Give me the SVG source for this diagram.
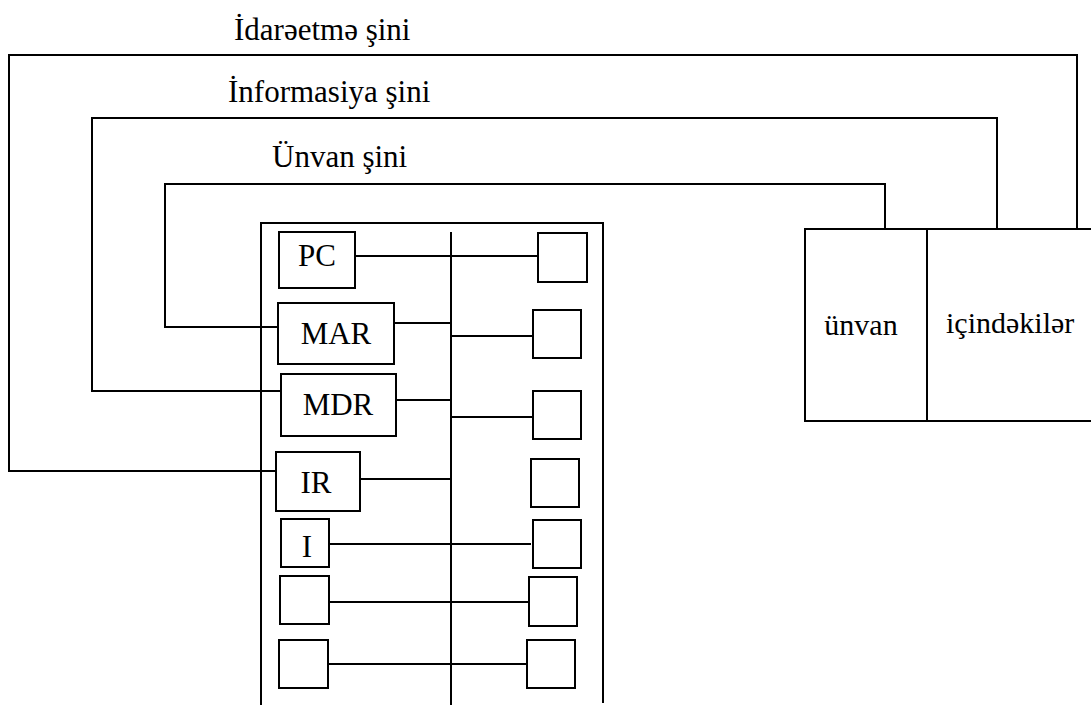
<svg xmlns="http://www.w3.org/2000/svg" width="1091" height="707" viewBox="0 0 1091 707">
<style>
.ln{fill:none;stroke:#000;stroke-width:2}
.bx{fill:#fff;stroke:#000;stroke-width:2}
.t{font-family:"Liberation Serif","Times New Roman",serif;font-size:31px;fill:#000}
.m{font-family:"Liberation Serif","Times New Roman",serif;font-size:30px;fill:#000}
</style>
<rect width="1091" height="707" fill="#fff"/>
<g id="labels">
<text class="t" x="234" y="40">İdarəetmə şini</text>
<text class="t" x="228" y="102">İnformasiya şini</text>
<text class="t" x="272" y="167">Ünvan şini</text>
</g>
<g id="connectors">
<path class="ln" d="M276,471 H9 V55 H1077 V229"/>
<path class="ln" d="M281,391 H92 V118 H997 V229"/>
<path class="ln" d="M278,327 H165 V184 H885 V229"/>
<path class="ln" d="M261,705 V223 H603 V703"/>
<path class="ln" d="M451,232 V705"/>
<path class="ln" d="M355,256 H538"/>
<path class="ln" d="M394,323 H451"/>
<path class="ln" d="M451,336 H533"/>
<path class="ln" d="M396,400 H451"/>
<path class="ln" d="M451,417 H533"/>
<path class="ln" d="M360,479 H451"/>
<path class="ln" d="M329,544 H531"/>
<path class="ln" d="M329,602 H529"/>
<path class="ln" d="M328,664 H527"/>
</g>
<g id="PC"><rect class="bx" x="279" y="232" width="76" height="56"/><text class="t" x="317" y="266" text-anchor="middle">PC</text></g>
<g id="MAR"><rect class="bx" x="278" y="303" width="116" height="61"/><text class="t" x="336" y="344" text-anchor="middle">MAR</text></g>
<g id="MDR"><rect class="bx" x="281" y="374" width="115" height="62"/><text class="t" x="338" y="415" text-anchor="middle">MDR</text></g>
<g id="IR"><rect class="bx" x="276" y="452" width="84" height="59"/><text class="t" x="316" y="493" text-anchor="middle">IR</text></g>
<g id="I"><rect class="bx" x="281" y="519" width="48" height="48"/><text class="t" x="307" y="557" text-anchor="middle">I</text></g>
<g id="L6"><rect class="bx" x="280" y="576" width="49" height="48"/></g>
<g id="L7"><rect class="bx" x="279" y="640" width="49" height="48"/></g>
<g id="R1"><rect class="bx" x="538" y="233" width="49" height="49"/></g>
<g id="R2"><rect class="bx" x="533" y="310" width="48" height="48"/></g>
<g id="R3"><rect class="bx" x="533" y="391" width="48" height="48"/></g>
<g id="R4"><rect class="bx" x="531" y="459" width="48" height="48"/></g>
<g id="R5"><rect class="bx" x="533" y="520" width="48" height="48"/></g>
<g id="R6"><rect class="bx" x="529" y="577" width="48" height="49"/></g>
<g id="R7"><rect class="bx" x="527" y="640" width="48" height="48"/></g>
<g id="memory">
<path class="ln" d="M1095,229 H805 V421 H1095"/>
<path class="ln" d="M927,229 V421"/>
<text class="m" x="861" y="335" text-anchor="middle">ünvan</text>
<text class="m" x="946" y="333">içindəkilər</text>
</g>
</svg>
